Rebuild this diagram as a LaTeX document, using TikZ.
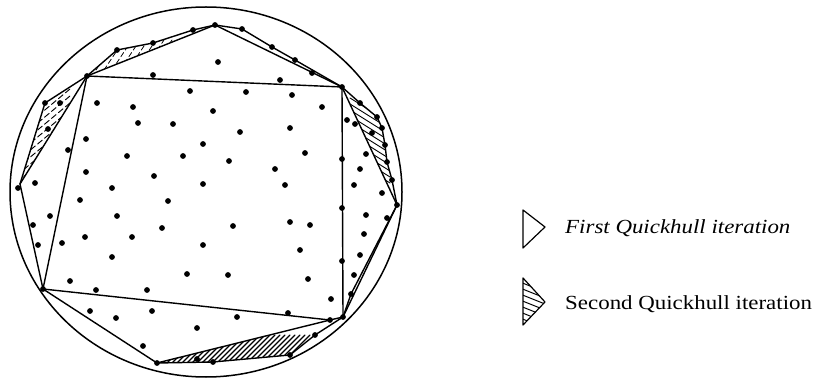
\documentclass[tikz,border=0pt]{standalone}
\usepackage{fontspec}
\setmainfont{Liberation Serif}
\begin{document}
\begin{tikzpicture}[x=1pt,y=-1pt,line join=round,line cap=round,
  hull/.style={line width=1.4pt},
  circ/.style={line width=1.5pt},
  hatchline/.style={line width=1.1pt},
  legendtext/.style={anchor=base west,inner sep=0pt,font=\fontsize{20}{24}\selectfont,xscale=1.145}]
\useasboundingbox (0,0) rectangle (814,379);
% enclosing circle
\draw[circ] (206,192) ellipse [x radius=196, y radius=185];
% named hull vertices
\coordinate (A) at (87,76);
\coordinate (B) at (342,87);
\coordinate (C) at (343,317);
\coordinate (C2) at (330,320);
\coordinate (D) at (43,289);
\coordinate (T) at (215,25);
\coordinate (R) at (397,205);
\coordinate (L) at (20,184);
\coordinate (S) at (157,363);
% hatched second-iteration regions
\begin{scope}
  \clip (S) -- (213,362) -- (290,355) -- (315,335) -- (C) -- (C2) -- cycle;
  \foreach \i in {150,155,...,360} \draw[hatchline] (\i,375) -- ++(40,-40);
\end{scope}
\begin{scope}
  \clip (A) -- (45,103) -- (L) -- cycle;
  \foreach \i in {0,7,...,120} \draw[line width=0.9pt,dash pattern=on 6pt off 3pt] (10,90+\i) -- ++(60,-50);
\end{scope}
\begin{scope}
  \clip (A) -- (117,50) -- (153,43) -- (193,30) -- (T) -- cycle;
  \foreach \i in {80,88,...,220} \draw[line width=0.8pt,dash pattern=on 5pt off 3pt] (\i,70) -- ++(20,-30);
\end{scope}
\begin{scope}
  \clip (B) -- (360,103) -- (377,117) -- (382,128) -- (385,145) -- (387,162) -- (392,180) -- (R) -- cycle;
  \foreach \i in {80,86,...,220} \draw[line width=0.9pt] (350,\i) -- ++(40,25);
\end{scope}
% first quickhull iteration (quadrilateral and triangles)
\draw[hull] (A) -- (B) -- (C) -- (C2) -- (D) -- cycle;
\draw[hull] (A) -- (T) -- (B);
\draw[hull] (B) -- (R) -- (C);
\draw[hull] (A) -- (L) -- (D);
\draw[hull] (D) -- (S) -- (C2);
% second iteration chains
\draw[hull] (A) -- (117,50) -- (153,43) -- (193,30) -- (T);
\draw[hull] (T) -- (242,29) -- (272,47) -- (295,60) -- (B);
\draw[hull] (B) -- (360,103) -- (377,117) -- (382,128) -- (385,145) -- (387,162) -- (392,180) -- (R);
\draw[hull] (R) -- (351,294) -- (C);
\draw[hull] (A) -- (45,103) -- (L);
\draw[hull] (S) -- (213,362) -- (290,355) -- (315,335) -- (C);
% points
\foreach \p in {
  (87,76),(117,50),(153,43),(193,30),(215,25),(242,29),(272,47),(295,60),(312,73),
  (342,87),(360,103),(377,117),(382,128),(385,145),(387,162),(392,180),(397,205),
  (351,294),(343,317),(330,320),(315,335),(290,355),(213,362),(197,359),(157,363),
  (43,289),(38,245),(33,225),(18,188),(45,103),(48,129),(60,103),
  (218,62),(153,75),(190,91),(97,103),(133,107),(213,111),(138,123),(173,124),
  (86,139),(203,144),(68,150),(127,156),(183,156),(86,172),(154,176),(35,183),
  (203,184),(112,188),(280,80),(246,92),(292,95),(322,107),(240,132),(290,128),
  (305,153),(229,161),(275,169),(285,185),(347,120),(355,124),(372,133),(366,154),
  (342,159),(360,169),(354,185),(382,193),(342,208),(366,215),(387,218),(364,234),
  (360,255),(342,261),(354,275),(331,299),(233,226),(290,222),(310,225),(203,245),
  (300,250),(228,275),(308,279),(288,313),(237,317),(80,200),(168,201),(50,216),
  (117,216),(162,228),(85,237),(132,237),(62,243),(112,257),(187,274),(70,281),
  (96,290),(147,290),(90,311),(152,311),(116,318),(197,328),(143,346)}
  \fill \p circle (2.9);
% legend
\draw[line width=1.2pt] (523,210) -- (545,227) -- (523,248) -- cycle;
\begin{scope}
  \clip (523,278) -- (545,302) -- (523,325) -- cycle;
  \foreach \i in {270,276,...,330} \draw[line width=1pt] (520,\i) -- ++(30,12);
\end{scope}
\draw[line width=1.2pt] (523,278) -- (545,302) -- (523,325) -- cycle;
\node[legendtext] (first) at (565,234) {\itshape First Quickhull iteration};
\node[legendtext] (second) at (565,310) {Second Quickhull iteration};
\end{tikzpicture}
\end{document}
